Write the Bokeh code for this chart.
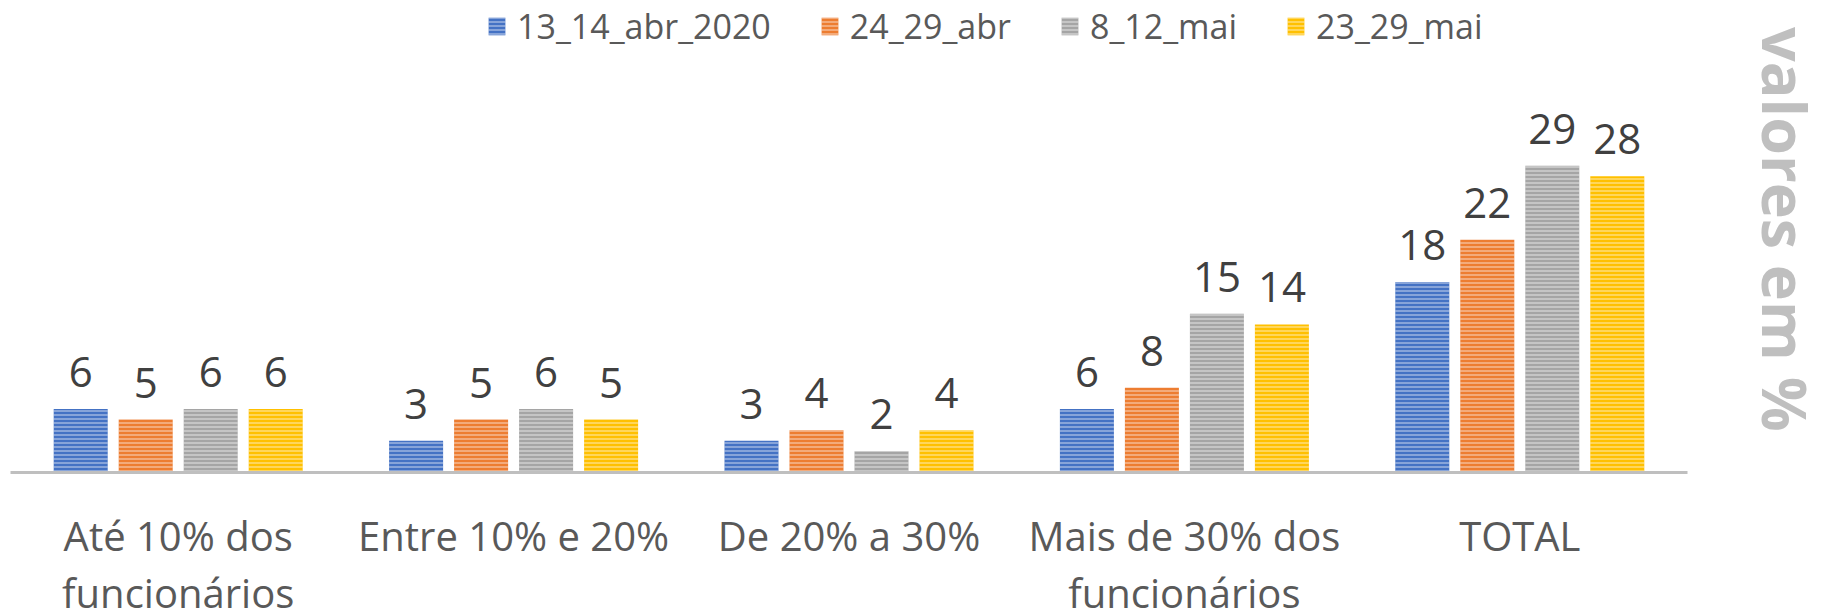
import math
from bokeh.plotting import figure
from bokeh.layouts import row
from bokeh.models import ColumnDataSource, FactorRange, Range1d, Legend, LegendItem, Label
from bokeh.transform import dodge
from bokeh.core.properties import value
from bokeh.embed import file_html
from bokeh.resources import INLINE

categories = ["Até 10% dos\nfuncionários", "Entre 10% e 20%", "De 20% a 30%",
              "Mais de 30% dos\nfuncionários", "TOTAL"]
series = ["13_14_abr_2020", "24_29_abr", "8_12_mai", "23_29_mai"]
s_13_14_abr_2020 = [6, 3, 3, 6, 18]
s_24_29_abr = [5, 5, 4, 8, 22]
s_8_12_mai = [6, 6, 2, 15, 29]
s_23_29_mai = [6, 5, 4, 14, 28]
colors = ["#4472C4", "#ED7D31", "#A5A5A5", "#FFC000"]
side_title = "valores em %"

values = [s_13_14_abr_2020, s_24_29_abr, s_8_12_mai, s_23_29_mai]

FONT = "Open Sans"
STEP = 0.1938
BAR_W = 0.161
PX_PER_UNIT = 10.58
FRAME_H = 464

p = figure(x_range=FactorRange(*categories, range_padding=0),
           y_range=Range1d(0, FRAME_H / PX_PER_UNIT),
           frame_width=1677, frame_height=FRAME_H,
           width=1690, height=610,
           min_border_left=10, min_border_top=8, min_border_bottom=138,
           min_border_right=3,
           output_backend="svg", toolbar_location=None)

items = []
for i, (name, vals, col) in enumerate(zip(series, values, colors)):
    src = ColumnDataSource(dict(cat=categories, v=vals, lbl=[str(x) for x in vals]))
    off = (i - 1.5) * STEP
    r = p.vbar(x=dodge("cat", off, range=p.x_range), top="v", width=BAR_W, source=src,
               fill_color=col, line_color=None,
               hatch_pattern="horizontal_line", hatch_color="white",
               hatch_alpha=0.55, hatch_scale=4, hatch_weight=1.3)
    p.text(x=dodge("cat", off, range=p.x_range), y="v", text="lbl", source=src,
           text_font=value(FONT), text_font_size="42px", text_color="#404040",
           text_align="center", text_baseline="alphabetic", y_offset=-37)
    items.append(LegendItem(label=name, renderers=[r]))

legend = Legend(items=items, orientation="horizontal", location=(476, 423),
                glyph_width=21, glyph_height=22, label_standoff=10, spacing=48,
                label_text_font=FONT, label_text_font_size="34px",
                label_text_color="#595959", padding=0, margin=0,
                border_line_color=None, background_fill_alpha=0)
p.add_layout(legend)

p.xaxis.axis_line_color = "#BFBFBF"
p.xaxis.axis_line_width = 3
p.xaxis.major_tick_line_color = None
p.xaxis.minor_tick_line_color = None
p.xaxis.major_tick_out = 0
p.xaxis.major_label_standoff = 35
p.xaxis.major_label_text_line_height = 1.04
p.xaxis.major_label_text_font = FONT
p.xaxis.major_label_text_font_size = "40px"
p.xaxis.major_label_text_color = "#595959"
p.yaxis.visible = False
p.xgrid.visible = False
p.ygrid.visible = False
p.outline_line_color = None
p.background_fill_color = "white"
p.border_fill_color = "white"

# side panel holding the rotated unit caption
p2 = figure(width=133, height=610, x_range=Range1d(0, 133), y_range=Range1d(0, 610),
            min_border=0, output_backend="svg", toolbar_location=None)
p2.add_layout(Label(x=95, y=312, text=side_title, angle=-math.pi / 2,
                    text_font=FONT, text_font_size="61px", text_font_style="bold",
                    text_color="#BFBFBF", text_align="center",
                    text_baseline="alphabetic"))
p2.axis.visible = False
p2.grid.visible = False
p2.outline_line_color = None
p2.background_fill_color = "white"
p2.border_fill_color = "white"

layout = row(p, p2, spacing=0)
open("out.html", "w").write(file_html(layout, INLINE))
